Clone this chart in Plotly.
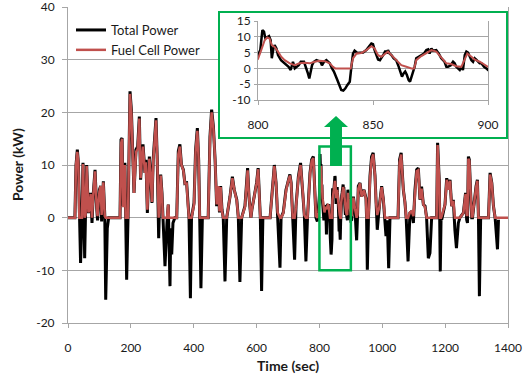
import plotly.graph_objects as go

# ---------------- data ----------------
# drive-cycle part before the zoom window
pre_t = [0, 22, 25.5, 29.7, 33, 36, 40, 44.5, 47.7, 51, 53, 56, 59.4, 65, 68, 72, 76.4, 80.6, 86, 91, 94,
         100, 104, 107, 112.5, 117, 120, 125, 129.5, 165.5, 168.7, 172, 176, 181, 183.5, 186.6, 191, 194,
         197.3, 201.6, 205.8, 210, 216.4, 221.7, 227, 231, 235, 238.6, 245, 248, 252.5, 258.8, 263, 267.3,
         271, 280, 284, 288.5, 291, 295, 299, 302, 305, 308.6, 315, 319, 321, 324.5, 327, 330, 334, 340,
         346, 351, 356, 361, 367, 372, 377.5, 381, 385, 389.5, 393, 401, 406, 411.6, 415.7, 419, 423,
         427.5, 446, 451.8, 457, 462.6, 468, 473, 478.3, 482, 485.7, 490, 494, 499.5, 505, 515.5, 523,
         529, 537, 542, 547, 552.5, 563, 571.5, 575.8, 582, 585, 592.5, 600, 605, 608, 612, 616, 620,
         643, 650, 656.5, 662, 667, 674.5, 678, 685, 693.6, 700, 706, 710, 715, 721, 725.5, 733, 740,
         746.5, 752, 757, 762, 770, 775.3, 780.6, 784, 789, 793.5, 797]
pre_total = [0, 0, 10, 12.9, 10.4, 0, -8.6, 0, 10.4, 0.5, -7.7, 1.5, 10, 0.9, 1.5, 4.7, -1, 4.7, 9.1, 2.2, -0.5,
             5.3, 6, -0.7, 6.9, 0.5, -15.6, -2, 0, 0, 14.8, 15.1, 2.2, 10.4, 0, -11.8, 0, 12.9,
             24, 20.5, 11, 4.7, 12.9, 13.5, 19.2, 7.2, 11, 13.9, 8.5, 11, 0.9, 11.6, 7.8, 2.8,
             11, 18.9, 11, -3.9, 2, 8.2, 4.7, 0, -2, -9.2, -1, 2.5, -3, -13, -2, -7, -1, 0,
             0, 12.6, 13.9, 10, 9.1, 6.5, 6.6, 2.8, 0, -15.3, 0, 2.8, 12.9, 17, 11, 0, -13.4,
             0, 0, 15.4, 20.5, 17.3, 11, 2.2, 6, 1, 6, 1.5, 0, -12.1, 0, 4, 7.8,
             5.3, 3.4, 0, -12.2, 0, 2.2, 9.4, 4, 0, 1.5, 4, 6.6, 9.4, 3.5, 0, -13.9, 0,
             0, 5.3, 10, 6.6, 1, -9.5, 0, 1, 5.3, 6.8, 8.2, 6.6, 0, -8, 2.2, 7.8, 10.4,
             5.3, 0.5, -8.3, 0, 8.5, 11, 11.6, 5.3, 0, -0.7, 1.5]
pre_fuel = [0, 0, 10, 12.5, 10.4, 0, 0, 0, 10.2, 0.5, 0, 0.5, 9.8, 1, 1.5, 4.5, 0, 4.5, 8.8, 2.2, 0.3,
            5, 6, 0.5, 6.7, 0.3, 0, 0, 0, 0, 14, 15, 2, 10, 0, 0, 0, 12,
            23.5, 20, 11, 4.7, 12.5, 13, 18.8, 7.5, 11, 13.5, 8.5, 10.5, 1.5, 11.2, 7.8, 3,
            10.5, 18.5, 11, 0, 1, 8, 4.5, 0, 0, 0, 0, 2.5, 0, 0, 0, 0, 0, 0,
            0, 12, 13.5, 10, 9, 6.5, 6.5, 3, 0, 0, 0, 2.5, 12.5, 16.5, 11, 0, 0,
            0, 0, 15, 20, 17, 11, 2.5, 6, 1.2, 5.8, 1.2, 0, 0, 0, 4, 7.5,
            5.3, 3.2, 0, 0, 0, 2, 9, 4, 0, 1.5, 4, 6.5, 9.2, 3.5, 0, 0, 0,
            0, 5, 9.8, 6.5, 1, 0, 0, 0.8, 5, 6.8, 8, 6.5, 0, 0, 2, 7.5, 10,
            5.3, 0.5, 0, 0, 8.2, 10.8, 11.3, 5.5, 0.3, 0, 1]

# zoom window 800-900 s
win_total_t = [800, 801, 801.9, 802.6, 803.2, 804, 804.8, 805.5, 806, 806.7, 807.2, 808, 808.7, 810, 811.6,
               813.3, 814.2, 815.2, 816, 817.7, 818.6, 820, 821.7, 822.3, 823.5, 824.3, 825.4, 827.2,
               827.8, 828.7, 829.7, 831.2, 832.2, 833, 834.5, 835.5, 836.2, 837.1, 838, 838.8, 839.9,
               840.6, 841.3, 842, 843.2, 845.7, 847.1, 848.1, 849.3, 850, 850.7, 852.2, 853, 854.8,
               855.4, 856, 856.5, 857.2, 858, 859, 860.1, 861.2, 862, 862.6, 863.3, 864, 864.7, 865.5,
               866.1, 866.8, 867.4, 868.1, 868.8, 869.9, 871, 872.2, 873.2, 874, 874.6, 875.4, 876.1,
               876.8, 877.5, 878.6, 879.7, 881.1, 881.9, 882.6, 883.8, 884.8, 885.5, 886.2, 887,
               887.7, 888.4, 889.1, 889.9, 890.6, 891.3, 892, 892.8, 893.5, 894.2, 894.9, 895.7,
               896.4, 897.1, 898.3, 899.3, 900]
win_total = [4.2, 5.8, 12.1, 11.6, 9.5, 10, 10.2, 8.9, 3.2, 6.3, 7.4, 6.3, 4.2, 2.6, 1.6,
             0.5, -0.5, 2.1, 0, 1, 2.1, 2.1, -1.6, -3.2, 1, 2.1, 2.6, 2.1,
             1, 2.1, 2.6, 1.6, 0, -1, -3.7, -5.8, -6.8, -7, -6.3, -5.3, -4.2,
             0.5, 4.7, 5.6, 4.9, 5, 5.8, 6.8, 7.9, 7.7, 5.8, 2.8, 2.6, 4.7,
             5.6, 4.7, 5.8, 4.7, 4.2, 3.2, 2.6, 0.5, -1, -2.6, -1.6, -1, -2, -3.7,
             -4.2, -2.6, -1, 0.5, 3.2, 3.7, 4.2, 4.7, 5.8, 6, 4.7, 6.3, 5.6,
             5.8, 5.8, 4.7, 3.2, 2.1, 0.5, 0.5, 1, 2.1, 1.6, 0.5, 0,
             -0.5, 0.5, -0.5, 4.2, 5.3, 5, 3.7, 2.6, 2.1, 3.2, 2.8, 2.1,
             1.6, 1.6, 0.5, 0, -0.5]
win_fuel_t = [800, 801.4, 802.9, 804, 805, 806, 807.2, 808.7, 810.1, 811.6, 813.8, 816, 818, 820.3, 822.5,
              824.6, 826.8, 829, 831.2, 832.6, 833.6, 840.3, 841.3, 842.8, 845, 847.1, 849.3, 850.7,
              852.2, 853.6, 855, 856.5, 858, 860.1, 862.3, 864.5, 866.7, 867.9, 868.8, 871, 873.2,
              875.4, 877.5, 879.7, 881.9, 884, 886.2, 888.4, 889.9, 891, 892.8, 894.2, 896.4, 898.6, 900]
win_fuel = [3, 5.8, 8.9, 9.8, 9.5, 7.4, 6.8, 5.3, 3.7, 2.6, 1.6, 1, 1.6, 1.8, 1.6,
            2.1, 2.4, 2.3, 1.6, 0.5, 0, 0, 3.2, 4.7, 4.9, 5.8, 7, 6.3,
            4.2, 3.7, 4.5, 5.3, 4.2, 2.6, 1, 0.5, 0, 0, 2.6, 3.9, 4.9,
            5.8, 5.3, 3.5, 1.6, 1.4, 0.7, 0.5, 3.2, 4.7, 3.7, 2.8, 2.1, 1, 0.5]

# drive-cycle part after the zoom window
post_t = [902.6, 908, 913, 916, 918.4, 921, 923.7, 929, 934.4, 941.8, 948.2, 950, 952.4, 956, 961, 966,
          971, 976.8, 980, 984, 990.7, 998, 1003.3, 1008.6, 1011.8, 1016, 1020.3, 1024.5, 1050, 1055,
          1060, 1067, 1072, 1076, 1082, 1088, 1093.5, 1099, 1104, 1109.4, 1114.7, 1120, 1125, 1130.7,
          1136, 1141, 1146.5, 1151.7, 1157, 1173, 1176, 1181.5, 1183, 1184.5, 1187, 1189, 1199.5,
          1205, 1210, 1215.5, 1220.7, 1226, 1231, 1236, 1242, 1247, 1258, 1265, 1268.5, 1271,
          1274, 1277, 1281.5, 1284.6, 1287, 1292, 1298.5, 1302.6, 1306, 1309, 1313, 1338, 1343,
          1348.5, 1353.7, 1359, 1366.5, 1369.7, 1400]
post_total = [-0.4, 4, 1.5, -1, -4.3, 0, 6, 6.6, 4, 5.3, 3.7, 0, -9.9, 0, 8, 11.6,
              12.3, 8, 3, -2.3, 2.2, 6, 3.5, 0, -3.5, -0.5, -9.6, 0, 0, 11,
              12.3, 5.3, 3, 0, -8.3, 0.9, 1.2, -1, 5.3, 9.1, 9.4, 3.4, 5.9, 2.5,
              2.2, 0, -7.7, -6.7, 0, 0, 14.2, 6.6, 0, -10.2, 0, -0.4, 2.5,
              7.5, 5.3, 7.2, 2.2, 3.4, -2.3, -5.8, -1, 0, 0.9, 4.7, -0.4, -1,
              11.6, 11, 4, 0, 0, 3.1, 6, 7.2, 0, -14.9, 0, 0, 8.5,
              6.6, 2.2, 0, -6, -0.4, None]
post_fuel = [0.3, 3.8, 1.8, 0, 0, 0.5, 5.5, 6.5, 4, 5.2, 3.5, 0, 0, 0, 7.5, 11,
             12, 8, 3, 0.5, 2, 5.8, 3.5, 0, 0, 0, 0, 0, 0, 10.5,
             12, 5.3, 3, 0, 0, 1, 1.2, 0.3, 5, 8.8, 9, 3.5, 5.5, 2.5,
             2, 0, 0, 0, 0, 0, 13.8, 6.5, 0, 0, 0, 0.3, 2.5,
             7.2, 5.3, 7, 2.2, 3.2, 0, 0, 0, 0, 0.9, 4.5, 0.5, 0.5,
             11.2, 10.8, 4, 0.2, 0.2, 3, 5.8, 7, 0, 0, 0, 0, 8.2,
             6.5, 2.2, 0, 0, 0, 0]

total_t = pre_t + win_total_t + post_t
total_kw = pre_total + win_total + post_total
fuel_t = pre_t + win_fuel_t + post_t
fuel_kw = pre_fuel + win_fuel + post_fuel

x_ticks_main = [0, 200, 400, 600, 800, 1000, 1200, 1400]
y_ticks_main = [-20, -10, 0, 10, 20, 30, 40]
x_ticks_inset = [800, 850, 900]
y_ticks_inset = [-10, -5, 0, 5, 10, 15]

# ---------------- layout geometry ----------------
W, H = 523, 379
L, R, T, B = 68, 508, 7, 323


def px(x):
    return (x - L) / (R - L)


def py(y):
    return (B - y) / (B - T)


GREEN = "#00B050"
RED = "#C0504D"
GRID = "#A6A6A6"
FONT = "Lato, 'Open Sans', sans-serif"
TXT = "#1a1a1a"


def labels(vals):
    return [str(v) for v in vals]  # hyphen minus, as in the reference


fig = go.Figure()

fig.add_trace(go.Scatter(x=total_t, y=total_kw, mode="lines", name="Total Power",
                         line=dict(color="black", width=3)))
fig.add_trace(go.Scatter(x=fuel_t, y=fuel_kw, mode="lines", name="Fuel Cell Power",
                         line=dict(color=RED, width=2.5)))

fig.add_trace(go.Scatter(x=[None], y=[None], xaxis="x2", yaxis="y2", showlegend=False,
                         hoverinfo="skip"))

fig.add_trace(go.Scatter(x=total_t, y=total_kw, mode="lines", xaxis="x3", yaxis="y3",
                         line=dict(color="black", width=2.5), showlegend=False))
fig.add_trace(go.Scatter(x=fuel_t, y=fuel_kw, mode="lines", xaxis="x3", yaxis="y3",
                         line=dict(color=RED, width=2), showlegend=False))

box = dict(x0=px(219), x1=px(507), y0=py(138), y1=py(12))
inset = dict(x0=px(258), x1=px(488), y0=py(100), y1=py(21))

shapes = [
    dict(type="rect", xref="x2", yref="y2", x0=0, x1=1, y0=0, y1=1,
         fillcolor="white", line=dict(width=0), layer="below"),
    dict(type="rect", xref="paper", yref="paper", x0=box["x0"], x1=box["x1"],
         y0=box["y0"], y1=box["y1"], line=dict(color=GREEN, width=2), layer="above"),
    dict(type="rect", xref="x", yref="y", x0=x_ticks_inset[0], x1=x_ticks_inset[-1], y0=-10, y1=13.5,
         line=dict(color=GREEN, width=2.5), layer="above"),
]
pts = [(330, 166), (330, 127), (324, 127), (336, 116), (348, 127), (342, 127), (342, 166)]
path = "M " + " L ".join(f"{px(a):.4f},{py(b):.4f}" for a, b in pts) + " Z"
shapes.append(dict(type="path", xref="paper", yref="paper", path=path,
                   fillcolor=GREEN, line=dict(width=0), layer="above"))

tickfont = dict(family=FONT, size=12, color=TXT)
titlefont = dict(family=FONT, size=14, color=TXT)

annotations = [
    dict(text="<b>Time (sec)</b>", xref="paper", yref="paper", x=0.5, y=py(365),
         xanchor="center", yanchor="middle", showarrow=False, font=titlefont),
    dict(text="<b>Power (kW)</b>", xref="paper", yref="paper", x=px(17), y=0.5,
         xanchor="center", yanchor="middle", showarrow=False, textangle=-90, font=titlefont),
]

fig.update_layout(
    width=W, height=H,
    margin=dict(l=L, r=W - R, t=T, b=H - B, autoexpand=False),
    paper_bgcolor="white", plot_bgcolor="white",
    font=dict(family=FONT, color=TXT),
    showlegend=True,
    legend=dict(x=px(71), y=py(15), xanchor="left", yanchor="top",
                bgcolor="rgba(0,0,0,0)", font=dict(family=FONT, size=13, color=TXT),
                itemwidth=30, tracegroupgap=0),
    xaxis=dict(range=[0, 1400], tickvals=x_ticks_main, ticktext=labels(x_ticks_main),
               ticks="outside", ticklen=4, automargin=False, ticklabeloverflow="allow",
               tickcolor=GRID, showline=True, linecolor=GRID, linewidth=1, showgrid=False,
               zeroline=False, tickfont=tickfont, ticklabelstandoff=10),
    yaxis=dict(range=[-20, 40], tickvals=y_ticks_main, ticktext=labels(y_ticks_main),
               ticks="outside", ticklen=5, automargin=False, ticklabeloverflow="allow",
               tickcolor=GRID, showline=True, mirror=True, linecolor=GRID, linewidth=1,
               showgrid=True, gridcolor=GRID, gridwidth=1, zeroline=False, tickfont=tickfont,
               ticklabelstandoff=5),
    xaxis2=dict(domain=[box["x0"], box["x1"]], range=[0, 1], anchor="y2", automargin=False,
                showgrid=False, zeroline=False, showline=False, showticklabels=False, ticks=""),
    yaxis2=dict(domain=[box["y0"], box["y1"]], range=[0, 1], anchor="x2", automargin=False,
                showgrid=False, zeroline=False, showline=False, showticklabels=False, ticks=""),
    xaxis3=dict(domain=[inset["x0"], inset["x1"]], range=[800, 900], anchor="y3",
                tickvals=x_ticks_inset, ticktext=labels(x_ticks_inset), automargin=False,
                ticklabeloverflow="allow", ticks="outside", ticklen=4, tickcolor=GRID,
                showline=True, linecolor=GRID, showgrid=False, zeroline=False,
                tickfont=tickfont, ticklabelstandoff=10),
    yaxis3=dict(domain=[inset["y0"], inset["y1"]], range=[-10, 15], anchor="x3",
                tickvals=y_ticks_inset, ticktext=labels(y_ticks_inset), automargin=False,
                ticklabeloverflow="allow", ticks="outside", ticklen=3, tickcolor=GRID,
                showline=True, mirror=True, linecolor=GRID, showgrid=True, gridcolor=GRID,
                zeroline=False, tickfont=tickfont, ticklabelstandoff=1),
    shapes=shapes,
    annotations=annotations,
)

fig.write_html("out.html", config={"displayModeBar": False, "staticPlot": False})

# remove the browser's default 8px page margin so the figure sits at the window's origin
with open("out.html", encoding="utf-8") as f:
    html = f.read()
html = html.replace("<head>", "<head><style>html,body{margin:0;padding:0;overflow:hidden;}</style>", 1)
with open("out.html", "w", encoding="utf-8") as f:
    f.write(html)
